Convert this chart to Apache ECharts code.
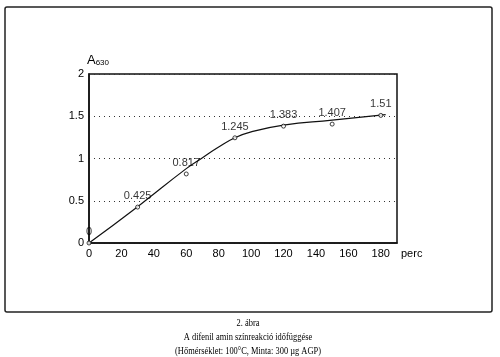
<!DOCTYPE html>
<html><head><meta charset="utf-8">
<script src="https://cdn.jsdelivr.net/npm/echarts@6/dist/echarts.min.js"></script>
<style>html,body{margin:0;padding:0;background:#fff}#c{width:500px;height:357px}</style>
</head><body><div id="c"></div>
<script>
// measured points (minutes, absorbance A630)
const minutes = [0, 30, 60, 90, 120, 150, 180];
const absorbance = [0, 0.425, 0.817, 1.245, 1.383, 1.407, 1.51];
const valueLabels = ['0', '0.425', '0.817', '1.245', '1.383', '1.407', '1.51'];
// fitted curve
const fitMinutes = [0, 30, 60, 70, 80, 90, 100, 120, 150, 183];
const fitValues = [0, 0.43, 0.88, 1.01, 1.135, 1.245, 1.315, 1.395, 1.455, 1.52];
const yTicks = [0, 0.5, 1, 1.5, 2];
const captionLines = ['2. ábra', 'A difenil amin színreakció időfüggése', '(Hőmérséklet: 100°C, Minta: 300 µg AGP)'];

const chart = echarts.init(document.getElementById('c'), null, {renderer: 'canvas'});
const sans = 'Liberation Sans, Arial, sans-serif';
const serif = 'Liberation Serif, Times New Roman, serif';
chart.setOption({
  animation: false,
  backgroundColor: '#fff',
  grid: {left: 89, top: 74, right: 103, bottom: 114, show: true, borderColor: '#111', borderWidth: 1.5, backgroundColor: 'transparent'},
  xAxis: {
    type: 'value', min: 0, max: 190, interval: 20,
    name: 'perc', nameLocation: 'end', nameGap: 4,
    nameTextStyle: {fontFamily: sans, fontSize: 11, color: '#000', verticalAlign: 'top', padding: [5, 0, 0, 0]},
    axisLine: {show: true, lineStyle: {color: '#111', width: 1.5}},
    axisTick: {show: false},
    axisLabel: {fontFamily: sans, fontSize: 11, color: '#000', margin: 5, showMaxLabel: false},
    splitLine: {show: false}
  },
  yAxis: {
    type: 'value', min: yTicks[0], max: yTicks[yTicks.length - 1], interval: 0.5,
    name: '{a|A}{s|630}', nameLocation: 'end', nameGap: 7,
    nameTextStyle: {align: 'left', padding: [0, 0, 0, -2],
      rich: {a: {fontFamily: sans, fontSize: 13, color: '#000'},
             s: {fontFamily: sans, fontSize: 8, color: '#000', verticalAlign: 'bottom', padding: [6, 0, 0, 0]}}},
    axisLine: {show: true, lineStyle: {color: '#111', width: 1.5}},
    axisTick: {show: false},
    axisLabel: {fontFamily: sans, fontSize: 11, color: '#000', margin: 5},
    splitLine: {show: true, lineStyle: {color: '#333', type: [1, 4], width: 1}}
  },
  series: [
    {
      type: 'line', smooth: 0.5, symbol: 'none', silent: true,
      data: fitMinutes.map((m, i) => [m, fitValues[i]]),
      lineStyle: {color: '#111', width: 1.2}, z: 3
    },
    {
      type: 'scatter', symbol: 'circle', symbolSize: 4,
      data: minutes.map((m, i) => [m, absorbance[i]]),
      itemStyle: {color: '#fff', borderColor: '#111', borderWidth: 1},
      label: {show: true, position: 'top', distance: 3, fontFamily: sans, fontSize: 11, color: '#000',
        formatter: p => valueLabels[p.dataIndex]},
      z: 4
    }
  ],
  graphic: [
    {type: 'rect', shape: {x: 5, y: 7, width: 487, height: 305, r: 2}, style: {fill: 'none', stroke: '#222', lineWidth: 1.5}, silent: true},
    {type: 'text', x: 248, y: 316, scaleX: 0.84, silent: true,
      style: {text: captionLines.join('\n'), font: '10px ' + serif, fill: '#000', textAlign: 'center', lineHeight: 14}}
  ]
});
</script></body></html>
